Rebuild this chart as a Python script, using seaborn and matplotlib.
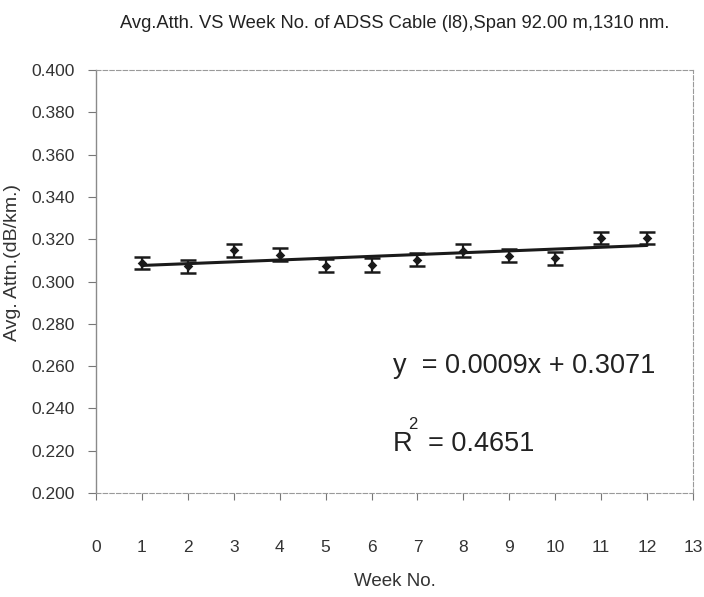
import matplotlib
matplotlib.use("Agg")
import matplotlib.pyplot as plt
import seaborn as sns
import numpy as np
import pandas as pd

# ---- data ----
weeks = [1, 2, 3, 4, 5, 6, 7, 8, 9, 10, 11, 12]
avg_attn = [0.3087, 0.3071, 0.3148, 0.3127, 0.3075, 0.3078,
            0.3103, 0.3146, 0.3122, 0.3110, 0.3205, 0.3206]
attn_err = [0.0030, 0.0032, 0.0030, 0.0030, 0.0032, 0.0031,
            0.0032, 0.0030, 0.0032, 0.0030, 0.0030, 0.0030]
x_ticks = list(range(0, 14))
y_ticks = [0.200, 0.220, 0.240, 0.260, 0.280, 0.300, 0.320, 0.340, 0.360, 0.380, 0.400]
title = "Avg.Atth. VS Week No. of ADSS Cable (l8),Span 92.00 m,1310 nm."
eq_text = "y  = 0.0009x + 0.3071"
r2_value = "= 0.4651"

df = pd.DataFrame({"week": weeks, "attn": avg_attn, "err": attn_err})

sns.set_theme(style="white")
plt.rcParams["font.family"] = ["Liberation Sans", "DejaVu Sans"]

fig = plt.figure(figsize=(7.04, 5.97), dpi=100)
ax = fig.add_axes([96 / 704, 1 - 493 / 597, 597 / 704, 423 / 597])

# error bars
ax.errorbar(df["week"], df["attn"], yerr=df["err"], fmt="none",
            ecolor="#1a1a1a", elinewidth=1.6, capsize=5.5, capthick=1.8, zorder=3)
# points
sns.scatterplot(data=df, x="week", y="attn", marker="D", s=24, color="#1a1a1a",
                edgecolor="#1a1a1a", linewidth=0, ax=ax, zorder=4)
# linear trend line
sns.regplot(data=df, x="week", y="attn", scatter=False, ci=None, truncate=True,
            line_kws={"color": "#1a1a1a", "linewidth": 2.2, "zorder": 2}, ax=ax)

ax.set_xlim(0, 13)
ax.set_ylim(0.200, 0.400)
ax.set_xticks(x_ticks)
ax.set_xticklabels([str(t) for t in x_ticks], fontsize=12.5, color="#333333")
ax.set_yticks(y_ticks)
ax.set_yticklabels([f"{t:.3f}" for t in y_ticks], fontsize=12.5, color="#333333")

ax.tick_params(axis="x", direction="out", length=5, width=0.8, color="#777777", pad=29,
               bottom=True)
ax.tick_params(axis="y", direction="out", length=6, width=0.8, color="#777777", pad=9,
               left=True)

for side in ["top", "right", "bottom"]:
    ax.spines[side].set_visible(True)
    ax.spines[side].set_color("#9a9a9a")
    ax.spines[side].set_linewidth(0.8)
    ax.spines[side].set_linestyle((0, (4, 2)))
ax.spines["left"].set_color("#8a8a8a")
ax.spines["left"].set_linewidth(1.0)

ax.set_xlabel("Week No.", fontsize=13.5, color="#333333", labelpad=13)
ax.set_ylabel("Avg. Attn.(dB/km.)", fontsize=14, color="#333333")
ax.yaxis.set_label_coords(-0.126, 0.544)
ax.set_title(title, fontsize=13.2, color="#222222", pad=30)

ax.text(0.4975, 0.300, eq_text, transform=ax.transAxes, fontsize=19.5,
        color="#222222", va="center", ha="left")
ax.text(0.497, 0.116, "R", transform=ax.transAxes, fontsize=19.5,
        color="#222222", va="center", ha="left")
ax.text(0.522, 0.163, "2", transform=ax.transAxes, fontsize=12,
        color="#222222", va="center", ha="left")
ax.text(0.556, 0.116, r2_value, transform=ax.transAxes, fontsize=19.5,
        color="#222222", va="center", ha="left")

fig.savefig("out.png", dpi=100)
